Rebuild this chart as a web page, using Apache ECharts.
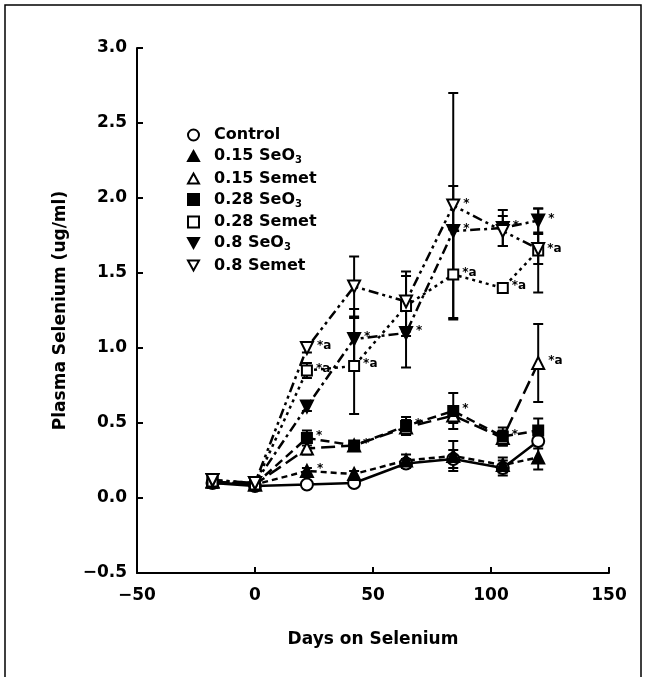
<!DOCTYPE html>
<html>
<head>
<meta charset="utf-8">
<script src="https://cdn.jsdelivr.net/npm/echarts@6/dist/echarts.min.js"></script>
<style>
html, body { margin: 0; background: #fff; }
#chart { width: 646px; height: 677px; }
</style>
</head>
<body>
<div id="chart"></div>
<script>
// days on selenium (x values)
var days = [-18, 0, 22, 42, 64, 84, 105, 120];

// plasma selenium, ug/ml
var control   = [0.10, 0.08, 0.09, 0.10, 0.23, 0.26, 0.20, 0.38];
var seo3_015  = [0.11, 0.09, 0.18, 0.16, 0.25, 0.28, 0.22, 0.27];
var semet_015 = [0.11, 0.09, 0.33, 0.35, 0.47, 0.55, 0.40, 0.90];
var seo3_028  = [0.10, 0.09, 0.40, 0.35, 0.48, 0.58, 0.41, 0.45];
var semet_028 = [0.11, 0.09, 0.85, 0.88, 1.28, 1.49, 1.40, 1.65];
var seo3_08   = [0.12, 0.10, 0.61, 1.06, 1.10, 1.78, 1.80, 1.85];
var semet_08  = [0.12, 0.10, 1.00, 1.41, 1.31, 1.95, 1.78, 1.66];

// error bar half widths
var controlErr   = [0, 0, 0, 0.02, 0.03, 0.06, 0.05, 0.05];
var seo3_015Err  = [0, 0, 0.02, 0.02, 0.04, 0.10, 0.05, 0.08];
var semet_015Err = [0, 0, 0.04, 0.03, 0.05, 0.05, 0.05, 0.26];
var seo3_028Err  = [0, 0, 0.05, 0.03, 0.06, 0.12, 0.06, 0.08];
var semet_028Err = [0, 0, 0.05, 0.32, 0.20, 0.30, 0.03, 0.28];
var seo3_08Err   = [0, 0, 0.03, 0.20, 0.23, 0.30, 0.12, 0.08];
var semet_08Err  = [0, 0, 0.03, 0.20, 0.20, 0.75, 0.10, 0.10];

// significance marks next to points
var controlNote   = ['', '', '', '', '', '', '', ''];
var seo3_015Note  = ['', '', '*', '', '', '', '', ''];
var semet_015Note = ['', '', '', '', '', '', '', '*a'];
var seo3_028Note  = ['', '', '*', '*', '*', '*', '*', ''];
var semet_028Note = ['', '', '*a', '*a', '', '*a', '*a', '*a'];
var seo3_08Note   = ['', '', '', '*', '*', '*', '*', '*'];
var semet_08Note  = ['', '', '*a', '', '', '*', '', ''];

var groups = [
    { name: 'Control',    vals: control,   err: controlErr,   note: controlNote,   sym: 'circle',   rot: 0,   fill: false, dash: 'solid' },
    { name: '0.15 SeO3',  vals: seo3_015,  err: seo3_015Err,  note: seo3_015Note,  sym: 'triangle', rot: 0,   fill: true,  dash: [6, 4] },
    { name: '0.15 Semet', vals: semet_015, err: semet_015Err, note: semet_015Note, sym: 'triangle', rot: 0,   fill: false, dash: [14, 6] },
    { name: '0.28 SeO3',  vals: seo3_028,  err: seo3_028Err,  note: seo3_028Note,  sym: 'rect',     rot: 0,   fill: true,  dash: [9, 5] },
    { name: '0.28 Semet', vals: semet_028, err: semet_028Err, note: semet_028Note, sym: 'rect',     rot: 0,   fill: false, dash: [3, 4] },
    { name: '0.8 SeO3',   vals: seo3_08,   err: seo3_08Err,   note: seo3_08Note,   sym: 'triangle', rot: 180, fill: true,  dash: [10, 4, 3, 4] },
    { name: '0.8 Semet',  vals: semet_08,  err: semet_08Err,  note: semet_08Note,  sym: 'triangle', rot: 180, fill: false, dash: [10, 4, 3, 4, 3, 4] }
];

var icons = {
    circle: 'circle',
    triangle: 'path://M5,0 L10,9 L0,9 Z',
    rect: 'rect',
    down: 'path://M0,0 L10,0 L5,9 Z'
};

var font = 'DejaVu Sans';
var chart = echarts.init(document.getElementById('chart'));

function errorBars(params, api) {
    var x = api.value(0);
    var top = api.coord([x, api.value(2)]);
    var bot = api.coord([x, api.value(1)]);
    var w = 5;
    var st = { stroke: '#000', lineWidth: 2 };
    return {
        type: 'group',
        children: [
            { type: 'line', shape: { x1: top[0], y1: top[1], x2: bot[0], y2: bot[1] }, style: st },
            { type: 'line', shape: { x1: top[0] - w, y1: top[1], x2: top[0] + w, y2: top[1] }, style: st },
            { type: 'line', shape: { x1: bot[0] - w, y1: bot[1], x2: bot[0] + w, y2: bot[1] }, style: st }
        ]
    };
}

var series = [];
var errData = [];
groups.forEach(function (g) {
    g.vals.forEach(function (v, i) {
        if (g.err[i] > 0) errData.push([days[i], v - g.err[i], v + g.err[i]]);
    });
});
series.push({
    type: 'custom',
    renderItem: errorBars,
    data: errData,
    encode: { x: 0, y: [1, 2] },
    silent: true,
    z: 1
});

groups.forEach(function (g) {
    series.push({
        name: g.name,
        type: 'line',
        symbol: g.sym,
        symbolRotate: g.rot,
        symbolSize: g.sym === 'rect' ? 10 : 12,
        showAllSymbol: true,
        z: 3,
        itemStyle: {
            color: g.fill ? '#000' : '#fff',
            borderColor: '#000',
            borderWidth: 2
        },
        lineStyle: { color: '#000', width: 2.5, type: g.dash },
        label: {
            show: true,
            position: 'right',
            distance: 3,
            offset: [0, -2],
            color: '#000',
            fontFamily: font,
            fontWeight: 'bold',
            fontSize: 12,
            formatter: function (p) { return g.note[p.dataIndex]; }
        },
        data: g.vals.map(function (v, i) { return [days[i], v]; })
    });
});

var legendData = groups.map(function (g) {
    var ic = g.sym === 'triangle' ? (g.rot ? icons.down : icons.triangle) : icons[g.sym];
    return { name: g.name, icon: ic };
});

var axisText = { color: '#000', fontFamily: font, fontWeight: 'bold', fontSize: 17 };

function minus(v, digits) {
    return v.toFixed(digits).replace('-', '\u2212');
}

var option = {
    animation: false,
    backgroundColor: '#fff',
    grid: { left: 137, right: 37, top: 48, bottom: 104 },
    graphic: [{
        type: 'rect',
        shape: { x: 5, y: 5, width: 636, height: 680 },
        style: { fill: 'none', stroke: '#000', lineWidth: 1.5 },
        silent: true
    }],
    legend: {
        orient: 'vertical',
        left: 187,
        top: 127,
        padding: 0,
        itemWidth: 11,
        itemHeight: 11,
        itemGap: 5,
        selectedMode: false,
        data: legendData,
        textStyle: {
            color: '#000',
            fontFamily: font,
            fontWeight: 'bold',
            fontSize: 16,
            padding: [0, 0, 0, 10],
            rich: {
                sub: { fontSize: 10, fontFamily: font, fontWeight: 'bold', color: '#000', padding: [9, 0, 0, 0] }
            }
        },
        formatter: function (name) {
            return name.replace('SeO3', 'SeO{sub|3}');
        }
    },
    xAxis: {
        type: 'value',
        min: -50,
        max: 150,
        interval: 50,
        name: 'Days on Selenium',
        nameLocation: 'middle',
        nameGap: 58,
        nameTextStyle: axisText,
        axisLine: { onZero: false, lineStyle: { color: '#000', width: 2 } },
        axisTick: { inside: true, length: 6, lineStyle: { color: '#000', width: 2 } },
        axisLabel: {
            color: '#000', fontFamily: font, fontWeight: 'bold', fontSize: 17, margin: 14,
            formatter: function (v) { return minus(v, 0); }
        },
        splitLine: { show: false }
    },
    yAxis: {
        type: 'value',
        min: -0.5,
        max: 3.0,
        interval: 0.5,
        name: 'Plasma Selenium (ug/ml)',
        nameLocation: 'middle',
        nameGap: 68,
        nameTextStyle: axisText,
        axisLine: { show: true, onZero: false, lineStyle: { color: '#000', width: 2 } },
        axisTick: { show: true, inside: true, length: 6, lineStyle: { color: '#000', width: 2 } },
        axisLabel: {
            color: '#000', fontFamily: font, fontWeight: 'bold', fontSize: 17, margin: 10,
            formatter: function (v) { return minus(v, 1); }
        },
        splitLine: { show: false }
    },
    series: series
};

chart.setOption(option);
</script>
</body>
</html>
